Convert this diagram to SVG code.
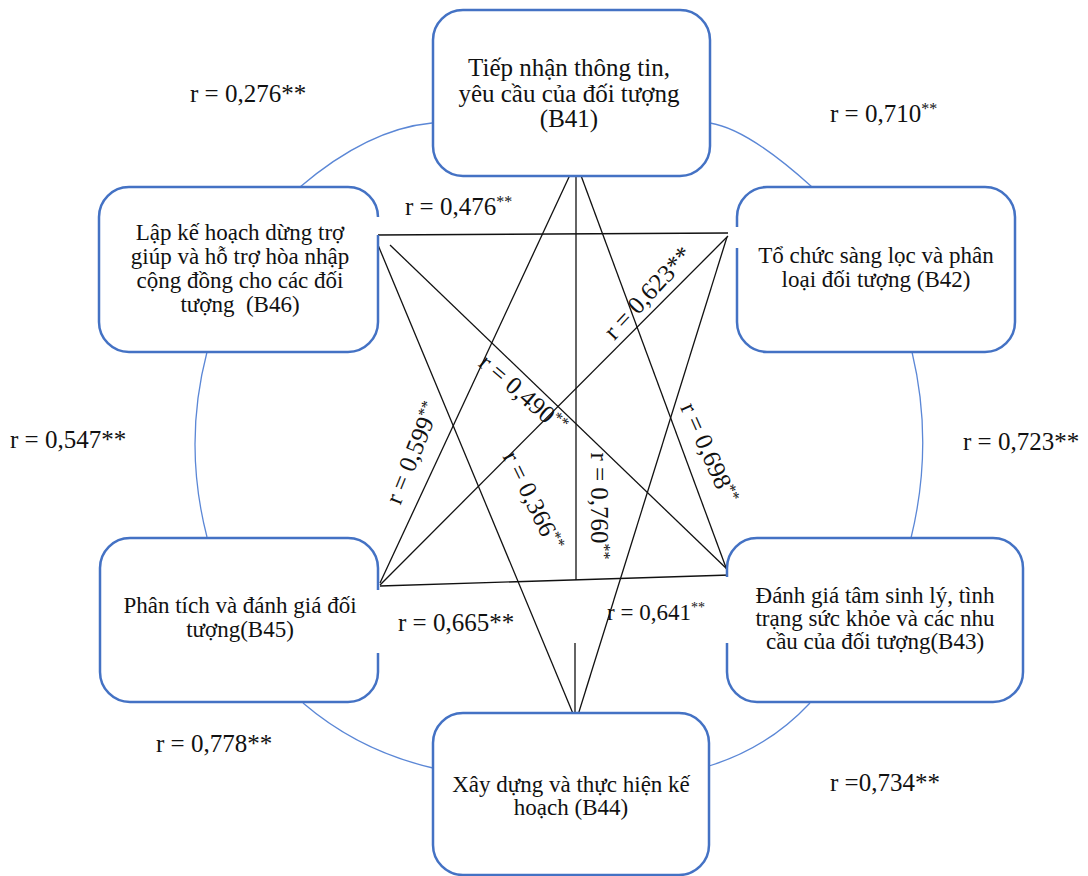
<svg xmlns="http://www.w3.org/2000/svg" width="1088" height="876" viewBox="0 0 1088 876">
<style>
.box{fill:#fff;stroke:#4472C4;stroke-width:2.5}
.arc{fill:none;stroke:#5B87D6;stroke-width:1.3}
.ln{stroke:#111;stroke-width:1.3;fill:none}
.t{font-family:"Liberation Serif","Times New Roman",serif;font-size:23px;fill:#111;text-anchor:middle}
.lb{font-family:"Liberation Serif","Times New Roman",serif;font-size:25px;fill:#111}
.mid{text-anchor:middle}
.sup{font-size:16px}
</style>
<rect width="1088" height="876" fill="#fff"/>
<g id="circle-arcs">
<path class="arc" d="M300 187 Q368 129 432 123"/>
<path class="arc" d="M710 123 Q748 129 812 187"/>
<path class="arc" d="M912 352 Q934 444 911 538"/>
<path class="arc" d="M810 703 Q768 748 709 766"/>
<path class="arc" d="M433 768 Q359 751 303 703"/>
<path class="arc" d="M207 537 Q183 444 207 352"/>
</g>
<g id="connectors">
<line class="ln" x1="377" y1="235" x2="728" y2="233"/>
<line class="ln" x1="380" y1="586" x2="730" y2="575"/>
<line class="ln" x1="576" y1="176" x2="576" y2="580"/>
<line class="ln" x1="575" y1="643" x2="575" y2="715"/>
<line class="ln" x1="576" y1="162" x2="380" y2="583"/>
<line class="ln" x1="576" y1="162" x2="728" y2="573"/>
<line class="ln" x1="378" y1="245" x2="574" y2="716"/>
<line class="ln" x1="390" y1="245" x2="728" y2="570"/>
<line class="ln" x1="728" y1="236" x2="380" y2="585"/>
<line class="ln" x1="727" y1="237" x2="578" y2="715"/>
</g>
<g id="B41">
<rect class="box" x="433" y="10" width="277" height="166" rx="30"/>
<text class="t" style="font-size:25px"><tspan x="569" y="76">Tiếp nhận thông tin,</tspan><tspan x="569" y="102">yêu cầu của đối tượng</tspan><tspan x="569" y="127">(B41)</tspan></text>
</g>
<g id="B42">
<path class="box" d="M737 227 V217 A30 30 0 0 1 767 187 H985 A30 30 0 0 1 1015 217 V322 A30 30 0 0 1 985 352 H767 A30 30 0 0 1 737 322 V248"/>
<text class="t"><tspan x="876" y="263">Tổ chức sàng lọc và phân</tspan><tspan x="876" y="287">loại đối tượng (B42)</tspan></text>
</g>
<g id="B43">
<path class="box" d="M727 577 V568 A30 30 0 0 1 757 538 H993 A30 30 0 0 1 1023 568 V672 A30 30 0 0 1 993 702 H757 A30 30 0 0 1 727 672 V643"/>
<text class="t"><tspan x="875" y="603">Đánh giá tâm sinh lý, tình</tspan><tspan x="875" y="626">trạng sức khỏe và các nhu</tspan><tspan x="875" y="649">cầu của đối tượng(B43)</tspan></text>
</g>
<g id="B44">
<rect class="box" x="433" y="713" width="276" height="162" rx="30"/>
<text class="t"><tspan x="571" y="792">Xây dựng và thực hiện kế</tspan><tspan x="571" y="815">hoạch (B44)</tspan></text>
</g>
<g id="B45">
<path class="box" d="M378 653 V672 A30 30 0 0 1 348 702 H130 A30 30 0 0 1 100 672 V568 A30 30 0 0 1 130 538 H348 A30 30 0 0 1 378 568 V590"/>
<text class="t"><tspan x="240" y="613">Phân tích và đánh giá đối</tspan><tspan x="240" y="637">tượng(B45)</tspan></text>
</g>
<g id="B46">
<path class="box" d="M378 235 V322 A30 30 0 0 1 348 352 H129 A30 30 0 0 1 99 322 V217 A30 30 0 0 1 129 187 H348 A30 30 0 0 1 378 217"/>
<text class="t" xml:space="preserve"><tspan x="240" y="240">Lập kế hoạch dừng trợ</tspan><tspan x="240" y="264">giúp và hỗ trợ hòa nhập</tspan><tspan x="240" y="288">cộng đồng cho các đối</tspan><tspan x="240" y="312">tượng  (B46)</tspan></text>
</g>
<g id="labels">
<text class="lb" x="190" y="102" xml:space="preserve">r = 0,276**</text>
<text class="lb" x="830" y="122" xml:space="preserve">r = 0,710<tspan class="sup" dy="-8">**</tspan></text>
<text class="lb" x="405" y="215" xml:space="preserve">r = 0,476<tspan class="sup" dy="-8">**</tspan></text>
<text class="lb" x="10" y="448" xml:space="preserve">r = 0,547**</text>
<text class="lb" x="963" y="450" xml:space="preserve">r = 0,723**</text>
<text class="lb" x="398" y="631" xml:space="preserve">r = 0,665**</text>
<text class="lb" x="607" y="620" style="font-size:23px" xml:space="preserve">r = 0,641<tspan class="sup" dy="-8" style="font-size:14px">**</tspan></text>
<text class="lb" x="156" y="752" xml:space="preserve">r = 0,778**</text>
<text class="lb" x="830" y="791" xml:space="preserve">r =0,734**</text>
<text class="lb mid" transform="translate(648 293) rotate(-47)" x="0" y="8" xml:space="preserve">r = 0,623**</text>
<text class="lb mid" transform="translate(523 394) rotate(41)" x="0" y="8" xml:space="preserve">r = 0,490<tspan class="sup" dy="-8">**</tspan></text>
<text class="lb mid" transform="translate(413 453) rotate(-68)" x="0" y="8" xml:space="preserve">r = 0,599<tspan class="sup" dy="-8">**</tspan></text>
<text class="lb mid" transform="translate(533 501) rotate(64)" x="0" y="8" xml:space="preserve">r = 0,366<tspan class="sup" dy="-8">**</tspan></text>
<text class="lb mid" transform="translate(599 506) rotate(90)" x="0" y="8" xml:space="preserve">r = 0,760<tspan class="sup" dy="-8">**</tspan></text>
<text class="lb mid" transform="translate(709 453) rotate(66)" x="0" y="8" xml:space="preserve">r = 0,698<tspan class="sup" dy="-8">**</tspan></text>
</g>
</svg>
